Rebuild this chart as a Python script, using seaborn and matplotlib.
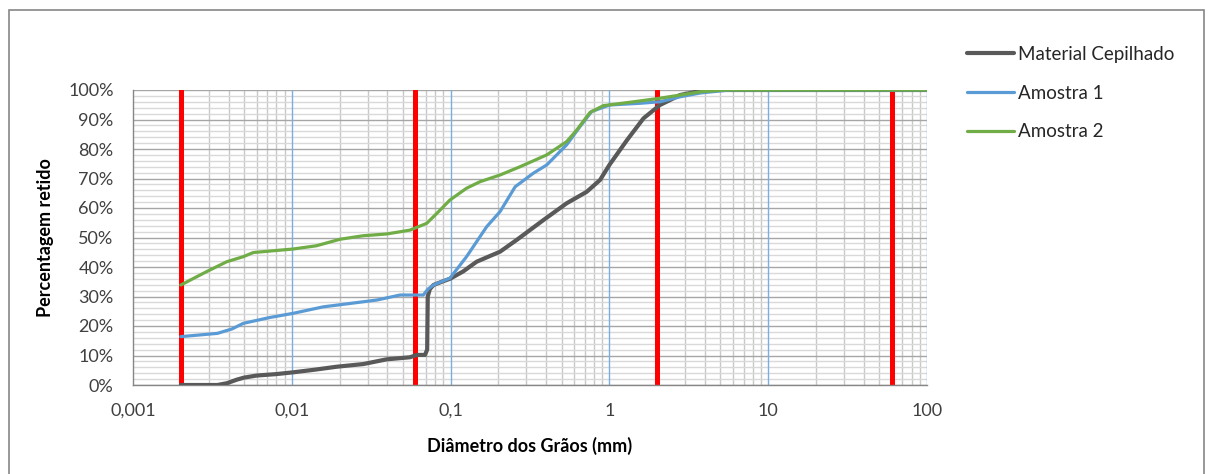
import numpy as np
import pandas as pd
import seaborn as sns
import matplotlib
matplotlib.use("Agg")
import matplotlib.pyplot as plt
from matplotlib.patches import Rectangle
from matplotlib.ticker import FixedLocator, LogLocator, MultipleLocator, NullFormatter

# curvas granulométricas
gray_x = [0.002, 0.0034, 0.0039, 0.0045, 0.0050, 0.0060, 0.0080, 0.0102, 0.0140, 0.0192, 0.0282,
          0.0396, 0.0555, 0.0613, 0.0690, 0.0712, 0.0718, 0.0740, 0.0780, 0.0880, 0.0990, 0.1200,
          0.146, 0.205, 0.261, 0.384, 0.538, 0.72, 0.873, 1.0, 1.29, 1.64, 2.08, 2.79, 3.75, 4.74, 100]
gray_y = [0, 0, 0.6, 1.8, 2.5, 3.2, 3.7, 4.3, 5.2, 6.2, 7.1,
          8.7, 9.4, 10.2, 10.2, 12.0, 30.0, 32.5, 33.9, 35.0, 36.0, 38.5,
          41.8, 45.2, 49.2, 55.9, 61.6, 65.5, 69.5, 74.6, 83.0, 90.4, 94.9, 98.3, 99.7, 100, 100]

blue_x = [0.002, 0.0034, 0.0042, 0.00495, 0.0073, 0.0102, 0.0158, 0.0222, 0.0343, 0.048, 0.0673,
          0.0720, 0.078, 0.099, 0.126, 0.169, 0.205, 0.255, 0.332, 0.403, 0.538, 0.653, 0.773,
          1.0, 1.56, 2.08, 2.79, 3.75, 5.74, 100]
blue_y = [16.4, 17.5, 19.0, 20.9, 22.9, 24.3, 26.5, 27.5, 28.8, 30.5, 30.5,
          32.5, 33.9, 36.2, 43.5, 53.7, 58.8, 67.2, 71.8, 74.6, 81.4, 87.6, 92.7,
          94.9, 95.5, 96.0, 97.7, 99.0, 100, 100]

green_x = [0.002, 0.0029, 0.0039, 0.00495, 0.00572, 0.0102, 0.0143, 0.0201, 0.0282, 0.0396, 0.0555,
           0.0707, 0.082, 0.099, 0.126, 0.153, 0.205, 0.274, 0.403, 0.538, 0.622, 0.755, 0.916,
           1.42, 2.08, 3.75, 5.3, 100]
green_y = [33.9, 38.4, 41.8, 43.5, 44.9, 46.1, 47.2, 49.4, 50.6, 51.2, 52.5,
           54.8, 58.2, 62.7, 66.7, 68.9, 71.2, 74.0, 78.0, 82.5, 86.4, 92.4, 94.7,
           96.0, 97.2, 99.4, 100, 100]

series = ["Material Cepilhado", "Amostra 1", "Amostra 2"]
limites = [0.002, 0.06, 2, 60]  # argila / silte / areia / pedregulho
x_ticks = [0.001, 0.01, 0.1, 1, 10, 100]
x_labels = ["0,001", "0,01", "0,1", "1", "10", "100"]

df = pd.concat([
	pd.DataFrame({"d": gray_x, "p": gray_y, "s": series[0]}),
	pd.DataFrame({"d": blue_x, "p": blue_y, "s": series[1]}),
	pd.DataFrame({"d": green_x, "p": green_y, "s": series[2]}),
])

sns.set_style("white")
plt.rcParams["font.family"] = ["Lato", "DejaVu Sans"]

fig = plt.figure(figsize=(12.08, 4.74), dpi=100)
ax = fig.add_axes([133 / 1208, 1 - 385 / 474, 794 / 1208, 295 / 474])

cores = {"Material Cepilhado": "#595959", "Amostra 1": "#5b9bd5", "Amostra 2": "#70ad47"}
sns.lineplot(data=df, x="d", y="p", hue="s", palette=cores, estimator=None,
             ax=ax, linewidth=2.3, zorder=3)
for l in ax.lines:
	if l.get_label() == "Material Cepilhado" or l.get_color() == "#595959":
		l.set_linewidth(3.0)

for xv in limites:
	ax.axvline(xv, color="#ff0000", lw=3.6, zorder=2)
# linhas das décadas (azuis, por cima da grelha cinza)
for xv in x_ticks[1:]:
	ax.axvline(xv, color="#7aaee0", lw=1.0, zorder=1)

ax.set_xscale("log")
ax.set_xlim(0.001, 100)
ax.set_ylim(0, 100)
ax.xaxis.set_major_locator(FixedLocator(x_ticks))
ax.set_xticklabels(x_labels)
ax.xaxis.set_minor_locator(LogLocator(base=10, subs=np.arange(2, 10)))
ax.xaxis.set_minor_formatter(NullFormatter())
ax.yaxis.set_major_locator(MultipleLocator(10))
ax.yaxis.set_minor_locator(MultipleLocator(2))
ax.set_yticks(range(0, 101, 10))
ax.set_yticklabels([f"{v}%" for v in range(0, 101, 10)])

ax.grid(which="minor", axis="x", color="#c8c8c8", lw=1.0, zorder=0)
ax.grid(which="major", axis="y", color="#a6a6a6", lw=1.0, zorder=1)
ax.grid(which="minor", axis="y", color="#d9d9d9", lw=1.0, zorder=0)
ax.set_axisbelow(True)

for s in ["top", "right"]:
	ax.spines[s].set_visible(False)
for s in ["left", "bottom"]:
	ax.spines[s].set_color("#868686")
	ax.spines[s].set_linewidth(1.0)

ax.tick_params(which="major", axis="both", direction="out", length=5, width=1,
               color="#868686", labelcolor="#404040", labelsize=13)
ax.tick_params(which="major", axis="x", pad=8)
ax.tick_params(which="major", axis="y", pad=9)
ax.tick_params(which="minor", length=0)

ax.set_xlabel("Diâmetro dos Grãos (mm)", fontsize=13, fontweight="bold", color="#000000")
ax.set_ylabel("Percentagem retido", fontsize=13, fontweight="bold", color="#000000")
ax.xaxis.set_label_coords(0.5, -0.175)
ax.yaxis.set_label_coords(-0.1, 0.5)

ax.legend(loc="upper left", bbox_to_anchor=(967 / 1208, 1 - 46 / 474), bbox_transform=fig.transFigure,
          frameon=False, fontsize=13.5, handlelength=2.5, handletextpad=0.2, labelspacing=1.15,
          borderpad=0, borderaxespad=0)

fig.patches.append(Rectangle((9 / 1208, -0.05), 1195 / 1208, 1.05 - 10 / 474, transform=fig.transFigure,
                             fill=False, edgecolor="#868686", lw=1.2))

fig.savefig("out.png", dpi=100)
